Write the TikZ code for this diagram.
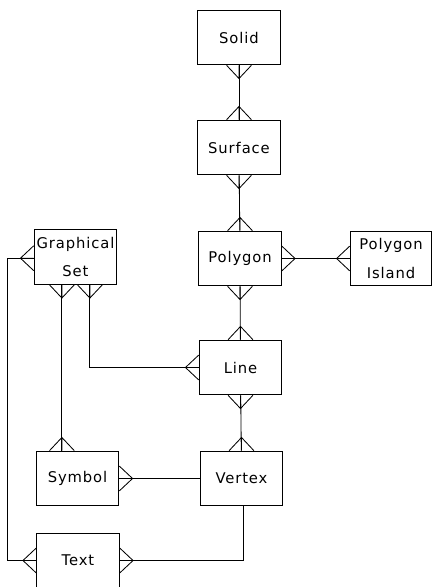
\documentclass[tikz,border=0pt]{standalone}
\usepackage{fontspec}
\setmainfont{DejaVu Sans}[LetterSpace=6]
\usepackage{tikz}
\usetikzlibrary{positioning}

% crow's foot at an anchor, pointing along the given angle
\newcommand{\crowfoot}[2]{\draw[shift={(#1)}, rotate=#2] (0,3.1mm) -- (3.3mm,0) -- (0,-3.1mm) (0,0) -- (3.3mm,0);}

\begin{document}
\begin{tikzpicture}[x=0.025cm, y=-0.025cm, line width=0.6pt]
\tikzstyle{entity} = [rectangle, draw=black, minimum width=2.07cm, minimum height=1.37cm, align=center, inner sep=1pt, font=\fontsize{10.5}{20}\selectfont]
\tikzstyle{link} = [draw=black]

\useasboundingbox (0,0) rectangle (433,587);

\node (solid) [entity] at (239,37.5) {Solid};
\node (surface) [entity] at (239,147.5) {Surface};
\node (polygon) [entity] at (240,258.5) {Polygon};
\node (island) [entity, minimum width=2.04cm] at (391,258.5) {Polygon\\Island};
\node (line) [entity] at (240.5,367.5) {Line};
\node (vertex) [entity] at (241.5,478.5) {Vertex};
\node (gset) [entity] at (75.5,257) {Graphical\\Set};
\node (symbol) [entity] at (77.5,478.5) {Symbol};
\node (txt) [entity] at (78,560.5) {Text};

\coordinate (gsetA) at ([xshift=-3.4mm]gset.south);
\coordinate (gsetB) at ([xshift=3.6mm]gset.south);
\coordinate (gsetL) at ([yshift=-0.3mm]gset.west);
\coordinate (leftrail) at (7,0);

\draw [link] (solid) -- (surface);
\draw [link] (surface) -- (polygon);
\draw [link] (polygon) -- (line);
\draw [link] (line) -- (vertex);
\draw [link] (polygon) -- (island);
\draw [link] (gsetB) |- (line.west);
\draw [link] (gsetA) -- (gsetA |- symbol.north);
\draw [link] (symbol) -- (vertex);
\draw [link] (txt.east) -| ([xshift=0.5mm]vertex.south);
\draw [link] (gsetL) -- (gsetL -| leftrail) |- (txt.west);

\crowfoot{solid.south}{-90}
\crowfoot{surface.north}{90}
\crowfoot{surface.south}{-90}
\crowfoot{polygon.north}{90}
\crowfoot{polygon.south}{-90}
\crowfoot{line.north}{90}
\crowfoot{line.south}{-90}
\crowfoot{vertex.north}{90}
\crowfoot{polygon.east}{0}
\crowfoot{island.west}{180}
\crowfoot{gsetA}{-90}
\crowfoot{gsetB}{-90}
\crowfoot{gsetL}{180}
\crowfoot{line.west}{180}
\crowfoot{gsetA |- symbol.north}{90}
\crowfoot{symbol.east}{0}
\crowfoot{txt.east}{0}
\crowfoot{txt.west}{180}

\end{tikzpicture}
\end{document}
